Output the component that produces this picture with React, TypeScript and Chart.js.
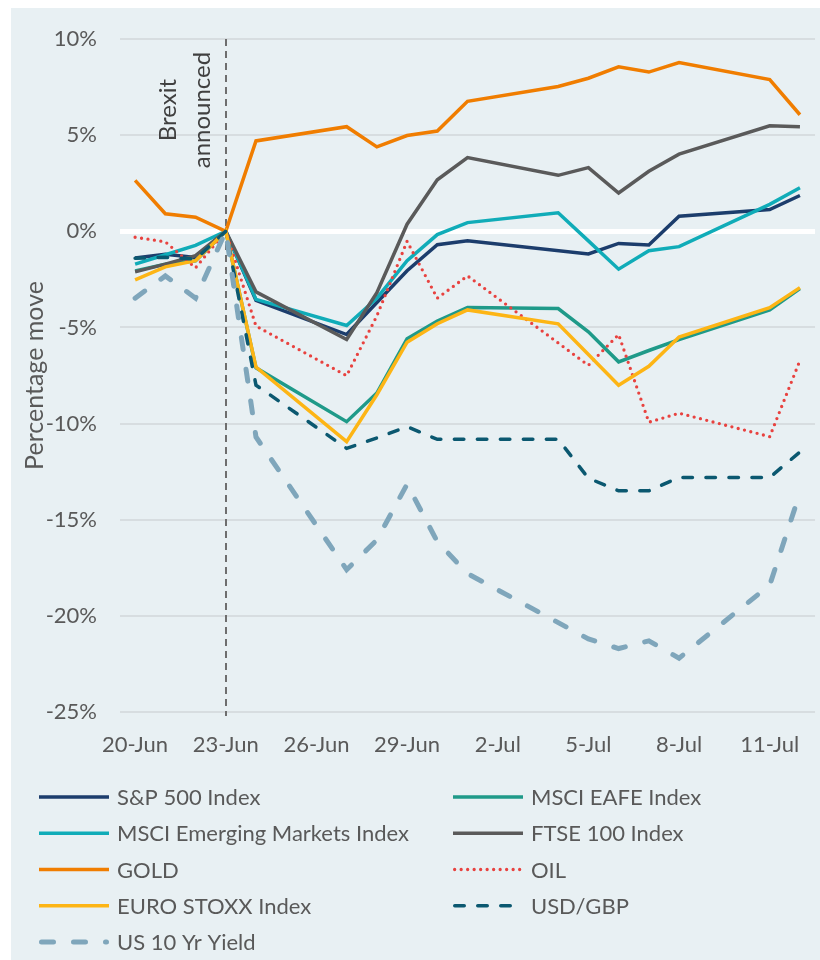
import React, { useEffect, useRef } from "react";
import { Chart, registerables } from "chart.js";

Chart.register(...registerables);

const dates = [
  "20-Jun", "21-Jun", "22-Jun", "23-Jun", "24-Jun", "25-Jun", "26-Jun", "27-Jun",
  "28-Jun", "29-Jun", "30-Jun", "1-Jul", "2-Jul", "3-Jul", "4-Jul", "5-Jul",
  "6-Jul", "7-Jul", "8-Jul", "9-Jul", "10-Jul", "11-Jul", "12-Jul",
];

const sp500 = [-1.39, -1.2, -1.36, 0, -3.59, null, null, -5.37, -3.7, -2.05, -0.7, -0.49, null, null, null, -1.18, -0.63, -0.71, 0.78, null, null, 1.13, 1.86];
const msciEafe = [-2.06, -1.71, -1.53, 0, -7.1, null, null, -9.9, -8.41, -5.59, -4.67, -3.97, null, null, -4.02, -5.23, -6.79, -6.2, -5.63, null, null, -4.09, -2.98];
const msciEm = [-1.71, -1.22, -0.73, 0, -3.54, null, null, -4.9, -3.48, -1.53, -0.17, 0.45, null, null, 0.96, -0.5, -1.97, -1.01, -0.8, null, null, 1.4, 2.26];
const ftse100 = [-2.11, -1.71, -1.27, 0, -3.15, null, null, -5.63, -3.19, 0.37, 2.68, 3.83, null, null, 2.91, 3.31, 1.99, 3.12, 4.01, null, null, 5.49, 5.44];
const gold = [2.65, 0.91, 0.73, 0, 4.7, null, null, 5.44, 4.39, 4.98, 5.21, 6.76, null, null, 7.53, 7.96, 8.55, 8.28, 8.78, null, null, 7.89, 6.06];
const oil = [-0.31, -0.55, -1.9, 0, -4.93, null, null, -7.51, -4.4, -0.52, -3.48, -2.32, null, null, null, -6.97, -5.37, -9.93, -9.46, null, null, -10.68, -6.72];
const euroStoxx = [-2.53, -1.85, -1.53, 0, -7.06, null, null, -10.94, -8.5, -5.77, -4.81, -4.09, null, null, -4.81, -6.41, -8.01, -7.02, -5.5, null, null, -3.97, -2.93];
const usdGbp = [-1.4, -1.35, -1.45, 0, -8.0, null, null, -11.29, -10.75, -10.16, -10.82, -10.82, null, null, -10.82, -12.84, -13.5, -13.5, -12.8, null, null, -12.8, -11.48];
const us10y = [-3.48, -2.32, -3.48, 0, -10.7, null, null, -17.6, -16.05, -13.15, -16.14, -17.8, null, null, null, -21.2, -21.7, -21.3, -22.2, null, null, -18.4, -13.6];

const seriesNames = [
  "S&P 500 Index", "MSCI EAFE Index", "MSCI Emerging Markets Index", "FTSE 100 Index",
  "GOLD", "OIL", "EURO STOXX Index", "USD/GBP", "US 10 Yr Yield",
];
const seriesValues = [sp500, msciEafe, msciEm, ftse100, gold, oil, euroStoxx, usdGbp, us10y];
const seriesColors = ["#1c3d6c", "#1f9a89", "#10acb8", "#5a5a5a", "#f07d00", "#e8423f", "#fdb515", "#0b5870", "#7fa6bb"];

const yMin = -25;
const yMax = 10;
const yStep = 5;
const brexitIndex = 3;
const annotationLines = ["Brexit", "announced"];
const yTitle = "Percentage move";

const FONT = "Lato, 'Open Sans', sans-serif";
const TEXT = "#595959";

const styleFor = (i: number) => {
  const name = seriesNames[i];
  if (name === "OIL") return { borderWidth: 3.3, borderDash: [0, 6.5], borderCapStyle: "round" };
  if (name === "USD/GBP") return { borderWidth: 3.5, borderDash: [9.5, 13.5], borderCapStyle: "round" };
  if (name === "US 10 Yr Yield") return { borderWidth: 5, borderDash: [12, 20], borderCapStyle: "round" };
  return { borderWidth: 3.5, borderDash: [], borderCapStyle: "butt" };
};

const brexitPlugin = {
  id: "brexitMarker",
  beforeDatasetsDraw(chart: any) {
    const { ctx, chartArea, scales } = chart;
    const x = Math.round(scales.x.getPixelForValue(brexitIndex));
    ctx.save();
    ctx.strokeStyle = "#6e6e6e";
    ctx.lineWidth = 2;
    ctx.setLineDash([7, 5]);
    ctx.beginPath();
    ctx.moveTo(x, chartArea.top);
    ctx.lineTo(x, chartArea.bottom + 4);
    ctx.stroke();
    ctx.setLineDash([]);
    ctx.translate(x - 41, chartArea.top + 71);
    ctx.rotate(-Math.PI / 2);
    ctx.font = `24px ${FONT}`;
    ctx.fillStyle = "#404040";
    ctx.textAlign = "center";
    ctx.textBaseline = "middle";
    ctx.fillText(annotationLines[0], 0, -17);
    ctx.fillText(annotationLines[1], 0, 17);
    ctx.restore();
  },
};

const gridLegendPlugin = {
  id: "gridLegend",
  afterDraw(chart: any) {
    const { ctx } = chart;
    chart.data.datasets.forEach((ds: any, i: number) => {
      const col = i % 2;
      const row = Math.floor(i / 2);
      const x0 = col === 0 ? 28 : 442;
      const y = 789 + row * 36.25;
      ctx.save();
      ctx.strokeStyle = ds.borderColor;
      ctx.lineWidth = ds.borderWidth;
      ctx.setLineDash(ds.borderDash || []);
      ctx.lineCap = ds.borderCapStyle || "butt";
      const inset = ctx.lineCap === "round" ? ds.borderWidth / 2 : 0;
      ctx.beginPath();
      ctx.moveTo(x0 + inset, y);
      ctx.lineTo(x0 + 70 - inset, y);
      ctx.stroke();
      ctx.setLineDash([]);
      ctx.font = `22px ${FONT}`;
      ctx.fillStyle = TEXT;
      ctx.textAlign = "left";
      ctx.textBaseline = "middle";
      ctx.fillText(ds.label, x0 + 78, y + 1);
      ctx.restore();
    });
  },
};

export default function App() {
  const canvasRef = useRef<HTMLCanvasElement | null>(null);

  useEffect(() => {
    if (!canvasRef.current) return;
    const n = seriesNames.length;
    const chart = new Chart(canvasRef.current, {
      type: "line",
      data: {
        labels: dates,
        datasets: seriesNames.map((name, i) => ({
          label: name,
          data: seriesValues[i],
          borderColor: seriesColors[i],
          backgroundColor: seriesColors[i],
          ...styleFor(i),
          pointRadius: 0,
          pointHoverRadius: 0,
          tension: 0,
          fill: false,
          spanGaps: true,
          order: n - i,
        })) as any,
      },
      options: {
        responsive: false,
        animation: false,
        devicePixelRatio: 1,
        layout: { padding: { left: 0, right: 3, top: 31, bottom: 198 } },
        plugins: {
          legend: { display: false },
          tooltip: { enabled: false },
        },
        scales: {
          x: {
            type: "category",
            offset: true,
            grid: { display: false, drawTicks: false },
            border: { display: false },
            ticks: {
              autoSkip: false,
              maxRotation: 0,
              minRotation: 0,
              padding: 20,
              color: TEXT,
              font: { family: FONT, size: 22 },
              callback: (_v: any, i: number) => (i % 3 === 0 ? dates[i] : ""),
            },
            afterFit: (s: any) => {
              s.height = 50;
            },
          },
          y: {
            min: yMin,
            max: yMax,
            ticks: {
              stepSize: yStep,
              padding: 8,
              color: TEXT,
              font: { family: FONT, size: 22 },
              callback: (v: any) => `${v}%`,
            },
            grid: {
              drawTicks: true,
              tickLength: 15,
              tickColor: "rgba(0,0,0,0)",
              color: (c: any) => (c.tick && c.tick.value === 0 ? "#ffffff" : "#d7dde0"),
              lineWidth: (c: any) => (c.tick && c.tick.value === 0 ? 5 : 2),
            },
            border: { display: false },
            title: {
              display: true,
              text: yTitle,
              color: TEXT,
              font: { family: FONT, size: 25 },
              padding: { top: 9, bottom: 0 },
            },
            afterFit: (s: any) => {
              s.width = 109;
            },
          },
        },
      } as any,
      plugins: [brexitPlugin, gridLegendPlugin],
    });
    return () => chart.destroy();
  }, []);

  return (
    <div
      style={{
        position: "fixed",
        left: 11,
        top: 8,
        width: 809,
        height: 952,
        background: "#e8f0f3",
      }}
    >
      <canvas ref={canvasRef} width={809} height={952} style={{ display: "block" }} />
    </div>
  );
}
